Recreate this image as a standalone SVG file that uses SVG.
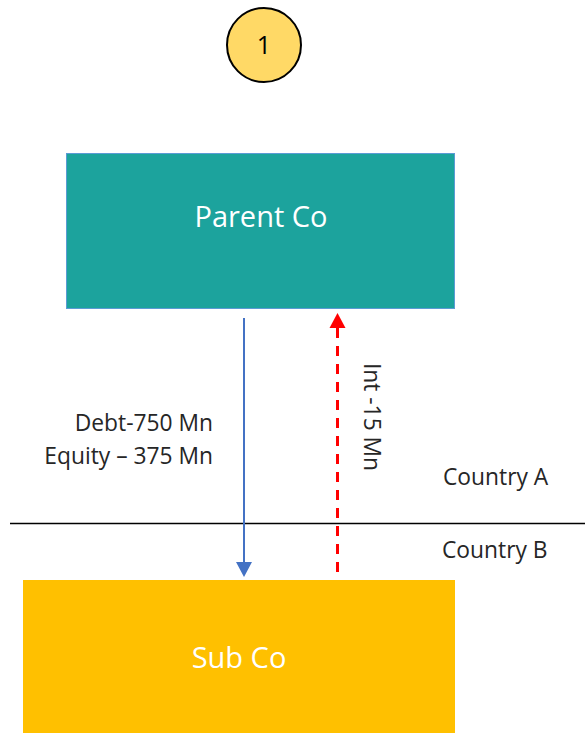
<svg xmlns="http://www.w3.org/2000/svg" width="585" height="733" viewBox="0 0 585 733">
<style>
.lbl{font-family:"Open Sans","Liberation Sans",sans-serif;font-size:22.8px;fill:#262626}
.big{font-family:"Open Sans","Liberation Sans",sans-serif;font-size:29px;fill:#ffffff;text-anchor:middle}
</style>
<rect width="585" height="733" fill="#ffffff"/>
<g id="badge">
<circle cx="264" cy="45" r="37" fill="#FFD966" stroke="#000" stroke-width="2"/>
<text x="264" y="54" font-family="Open Sans, Liberation Sans, sans-serif" font-size="25" text-anchor="middle" fill="#000">1</text>
</g>
<g id="parent">
<rect x="66.5" y="153.5" width="388" height="155" fill="#1CA39D" stroke="#5B9BD5" stroke-width="1"/>
<text class="big" x="261" y="227">Parent Co</text>
</g>
<g id="sub">
<rect x="23" y="580" width="432" height="153" fill="#FFC000"/>
<text class="big" x="239" y="668">Sub Co</text>
</g>
<g id="border">
<line x1="10" y1="523.5" x2="585" y2="523.5" stroke="#000" stroke-width="1.5"/>
<text class="lbl" x="443" y="485">Country A</text>
<text class="lbl" x="442" y="558">Country B</text>
</g>
<g id="connectors">
<line x1="244" y1="318" x2="244" y2="563" stroke="#4472C4" stroke-width="2"/>
<path d="M236,562 L252,562 L244,577 Z" fill="#4472C4"/>
<line x1="337.5" y1="572" x2="337.5" y2="328" stroke="#FF0000" stroke-width="3" stroke-dasharray="10,8"/>
<path d="M329.5,328 L345.5,328 L337.5,313 Z" fill="#FF0000"/>
<text class="lbl" x="213" y="431" text-anchor="end">Debt-750 Mn</text>
<text class="lbl" x="213" y="464" text-anchor="end">Equity – 375 Mn</text>
<text class="lbl" transform="translate(364,417) rotate(90)" text-anchor="middle">Int -15 Mn</text>
</g>
</svg>
